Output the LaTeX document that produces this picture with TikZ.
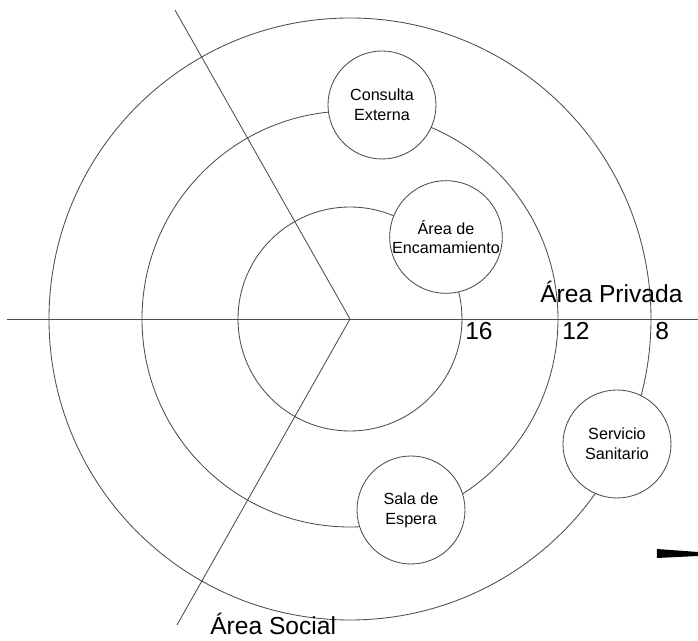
\documentclass[tikz,border=0pt]{standalone}
\usepackage{fontspec}
\setmainfont{Liberation Sans}
\usetikzlibrary{calc}
\tikzset{
  ring/.style={draw=black!70, line width=0.6pt},
  zone/.style={circle, draw=black!70, fill=white, line width=0.6pt,
    minimum size=2.7cm, inner sep=0pt, align=center,
    font=\fontsize{11.5}{14}\selectfont},
  lbl/.style={font=\fontsize{17.5}{19}\selectfont, inner sep=0pt, anchor=base west},
}
\begin{document}
\begin{tikzpicture}[x=1cm,y=1cm]
  \useasboundingbox (-8.75,-8.05) rectangle (8.7,7.975);
  \coordinate (o) at (0,0);
  \coordinate (w) at (-8.575,0);
  \coordinate (e) at (8.7,0);
  \coordinate (nw) at (-4.375,7.725);
  \coordinate (sw) at (-4.325,-7.65);
  % rings and axes
  \draw[ring] (o) circle (7.525);
  \draw[ring] (o) circle (5.2);
  \draw[ring] (o) circle (2.8);
  \draw[ring] (w) -- (e);
  \draw[ring] (nw) -- (o) -- (sw);
  % zones
  \node[zone] (consulta) at (0.8,5.35) {Consulta\\Externa};
  \node[zone] (encam) at (2.4,2.05) {Área de\\Encamamiento};
  \node[zone] (sanit) at (6.675,-3.125) {Servicio\\Sanitario};
  \node[zone] (sala) at (1.525,-4.775) {Sala de\\Espera};
  % labels
  \node[lbl] (r16) at (2.875,-0.525) {16};
  \node[lbl] (r12) at (5.3,-0.525) {12};
  \node[lbl] (r8) at (7.625,-0.525) {8};
  \node[lbl] (priv) at (4.75,0.4) {Área Privada};
  \node[lbl] (soc) at (-3.5,-7.9) {Área Social};
  % mark at the right edge
  \fill (7.675,-5.75) -- (8.7,-5.825) -- (8.7,-5.925) -- (7.675,-5.975) -- cycle;
\end{tikzpicture}
\end{document}
